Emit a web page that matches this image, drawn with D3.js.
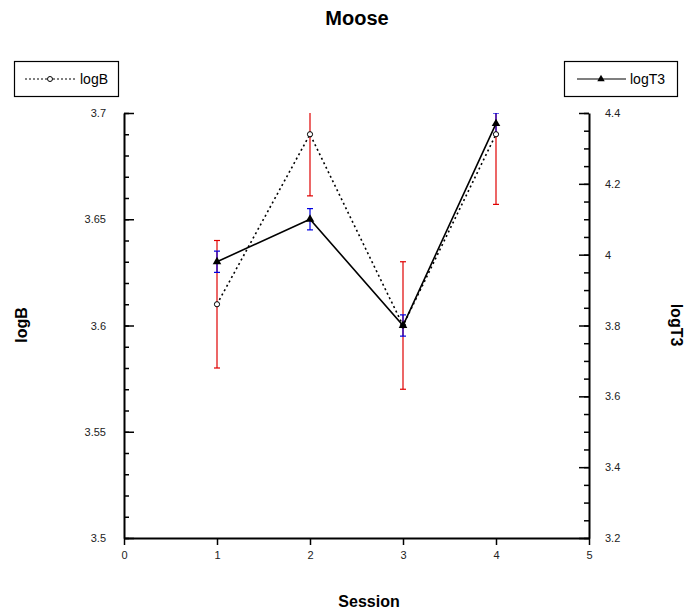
<!DOCTYPE html>
<html>
<head>
<meta charset="utf-8">
<script src="https://cdn.jsdelivr.net/npm/d3@7"></script>
<style>
  body { margin: 0; background: #fff; }
  text { font-family: "Liberation Sans", Arial, sans-serif; }
</style>
</head>
<body>
<svg id="chart" width="684" height="615"></svg>
<script>
// data
const sessions = [1, 2, 3, 4];
const logB = [3.61, 3.69, 3.60, 3.69];
const logBErr = [0.03, 0.029, 0.03, 0.033];
const logT3 = [3.98, 4.10, 3.80, 4.37];
const logT3Err = [0.03, 0.03, 0.03, 0.03];
const xTicks = [0, 1, 2, 3, 4, 5];
const leftTicks = [3.5, 3.55, 3.6, 3.65, 3.7];
const rightTicks = [3.2, 3.4, 3.6, 3.8, 4, 4.2, 4.4];

const svg = d3.select("#chart");
const margin = { top: 113, right: 95, bottom: 77, left: 124 };
const width = 684, height = 615;
const plotW = width - margin.left - margin.right;
const plotH = height - margin.top - margin.bottom;

const g = svg.append("g").attr("transform", `translate(${margin.left},${margin.top})`);

const x = d3.scaleLinear().domain([0, 5]).range([0, plotW]);
const yL = d3.scaleLinear().domain([3.5, 3.7]).range([plotH, 0]);
const yR = d3.scaleLinear().domain([3.2, 4.4]).range([plotH, 0]);

// clip error bars to plot area
svg.append("defs").append("clipPath").attr("id", "clip")
  .append("rect").attr("x", -10).attr("y", 0).attr("width", plotW + 20).attr("height", plotH);

// axes
const fmt = d => String(+d.toFixed(2));
function styleAxis(sel) {
  sel.select(".domain").attr("stroke", "#000").attr("stroke-width", 2);
  sel.selectAll(".tick line").attr("stroke", "#000").attr("stroke-width", 1.5);
  sel.selectAll("text").attr("font-size", 11).attr("fill", "#222")
    .style("font-family", "'Liberation Sans', Arial, sans-serif");
}

// minor ticks
g.append("g")
  .call(d3.axisRight(yL).tickValues(d3.range(3.5, 3.7001, 0.01)).tickSize(5).tickFormat(""))
  .call(s => { s.select(".domain").remove(); s.selectAll("line").attr("stroke", "#000").attr("stroke-width", 1.5); });
g.append("g").attr("transform", `translate(${plotW},0)`)
  .call(d3.axisLeft(yR).tickValues(d3.range(3.2, 4.4001, 0.05)).tickSize(5).tickFormat(""))
  .call(s => { s.select(".domain").remove(); s.selectAll("line").attr("stroke", "#000").attr("stroke-width", 1.5); });

g.append("g").attr("transform", `translate(0,${plotH})`)
  .call(d3.axisBottom(x).tickValues(xTicks).tickSize(7).tickSizeOuter(0).tickPadding(6).tickFormat(fmt))
  .call(styleAxis);

g.append("g")
  .call(d3.axisRight(yL).tickValues(leftTicks).tickSize(10).tickSizeOuter(0).tickFormat(fmt))
  .call(styleAxis)
  .call(s => s.selectAll("text").attr("x", -18).attr("text-anchor", "end"));

g.append("g").attr("transform", `translate(${plotW},0)`)
  .call(d3.axisLeft(yR).tickValues(rightTicks).tickSize(10).tickSizeOuter(0).tickFormat(fmt))
  .call(styleAxis)
  .call(s => s.selectAll("text").attr("x", 16).attr("text-anchor", "start"));

// error bars
function errBars(vals, errs, scale, color) {
  const eb = g.append("g").attr("clip-path", "url(#clip)");
  sessions.forEach((s, i) => {
    const cx = x(s), y1 = scale(vals[i] + errs[i]), y0 = scale(vals[i] - errs[i]);
    eb.append("line").attr("x1", cx).attr("x2", cx).attr("y1", y1).attr("y2", y0)
      .attr("stroke", color).attr("stroke-width", 1.2);
    [y0, y1].forEach(yy => eb.append("line").attr("x1", cx - 3).attr("x2", cx + 3)
      .attr("y1", yy).attr("y2", yy).attr("stroke", color).attr("stroke-width", 1.2));
  });
}
errBars(logB, logBErr, yL, "#e00000");
errBars(logT3, logT3Err, yR, "#0000e0");

// lines
const lineB = d3.line().x((d, i) => x(sessions[i])).y(d => yL(d));
const lineT = d3.line().x((d, i) => x(sessions[i])).y(d => yR(d));

g.append("path").datum(logB).attr("d", lineB).attr("fill", "none")
  .attr("stroke", "#000").attr("stroke-width", 1.6).attr("stroke-dasharray", "2,3");
g.append("path").datum(logT3).attr("d", lineT).attr("fill", "none")
  .attr("stroke", "#000").attr("stroke-width", 1.6);

const tri = d3.symbol().type(d3.symbolTriangle).size(32);
g.selectAll(".ptB").data(logB).enter().append("circle")
  .attr("cx", (d, i) => x(sessions[i])).attr("cy", d => yL(d)).attr("r", 2.6)
  .attr("fill", "#fff").attr("stroke", "#000").attr("stroke-width", 1);
g.selectAll(".ptT").data(logT3).enter().append("path")
  .attr("d", tri).attr("transform", (d, i) => `translate(${x(sessions[i])},${yR(d)})`)
  .attr("fill", "#000");

// title and axis labels
svg.append("text").attr("x", 357).attr("y", 25).attr("text-anchor", "middle")
  .attr("font-size", 20).attr("font-weight", "bold").text("Moose");
svg.append("text").attr("x", 369).attr("y", 607).attr("text-anchor", "middle")
  .attr("font-size", 16).attr("font-weight", "bold").text("Session");
svg.append("text").attr("transform", "translate(27,325) rotate(-90)").attr("text-anchor", "middle")
  .attr("font-size", 16).attr("font-weight", "bold").text("logB");
svg.append("text").attr("transform", "translate(671,325) rotate(90)").attr("text-anchor", "middle")
  .attr("font-size", 16).attr("font-weight", "bold").text("logT3");

// legends
const legB = svg.append("g");
legB.append("rect").attr("x", 14.5).attr("y", 61.5).attr("width", 104).attr("height", 35)
  .attr("fill", "#fff").attr("stroke", "#000").attr("stroke-width", 1.2);
legB.append("line").attr("x1", 25).attr("x2", 76).attr("y1", 79).attr("y2", 79)
  .attr("stroke", "#000").attr("stroke-width", 1.2).attr("stroke-dasharray", "2,2");
legB.append("circle").attr("cx", 50).attr("cy", 79).attr("r", 2.5)
  .attr("fill", "#fff").attr("stroke", "#000");
legB.append("text").attr("x", 80).attr("y", 84).attr("font-size", 14).text("logB");

const legT = svg.append("g");
legT.append("rect").attr("x", 564.5).attr("y", 61.5).attr("width", 113).attr("height", 35)
  .attr("fill", "#fff").attr("stroke", "#000").attr("stroke-width", 1.2);
legT.append("line").attr("x1", 577).attr("x2", 626).attr("y1", 79).attr("y2", 79)
  .attr("stroke", "#000").attr("stroke-width", 1.2);
legT.append("path").attr("d", d3.symbol().type(d3.symbolTriangle).size(24))
  .attr("transform", "translate(601,79)").attr("fill", "#000");
legT.append("text").attr("x", 630).attr("y", 84).attr("font-size", 14).text("logT3");
</script>
</body>
</html>
